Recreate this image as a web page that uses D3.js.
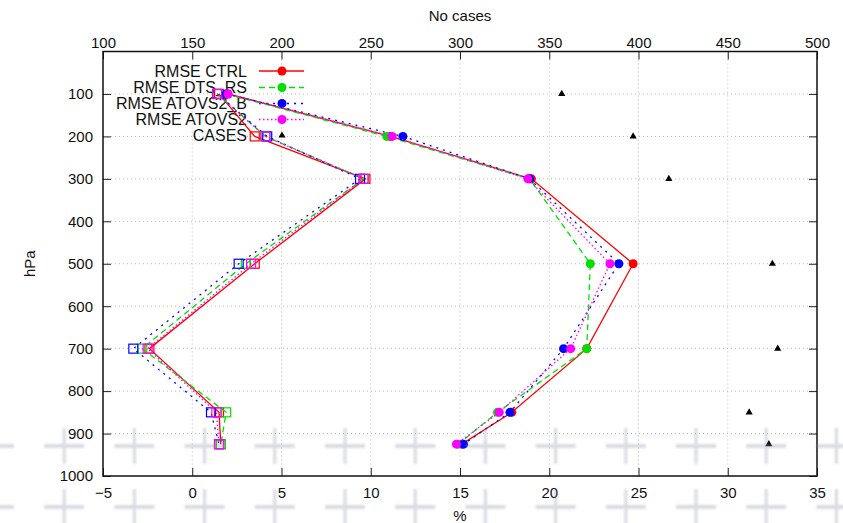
<!DOCTYPE html>
<html>
<head>
<meta charset="utf-8">
<script src="https://cdn.jsdelivr.net/npm/d3@7"></script>
<style>
  html, body { margin: 0; padding: 0; background: #fff; }
  svg { display: block; font-family: "Liberation Sans", Arial, sans-serif; }
</style>
</head>
<body>
<svg id="chart" width="843" height="523"></svg>
<script>
// Pressure levels (hPa)
const levels = [100, 200, 300, 500, 700, 850, 925];

// RMSE (%) per experiment
const rmseCtrl    = [2.0, 11.1, 19.0, 24.7, 22.1, 17.9, 15.1];
const rmseDtsRs   = [1.9, 10.9, 18.9, 22.3, 22.1, 17.1, 14.9];
const rmseAtovsB  = [1.9, 11.8, 18.9, 23.9, 20.8, 17.8, 15.2];
const rmseAtovs   = [2.0, 11.2, 18.8, 23.4, 21.2, 17.2, 14.8];

// Bias (%) per experiment
const biasCtrl    = [1.5, 3.5, 9.7, 3.5, -2.4, 1.5, 1.6];
const biasDtsRs   = [1.4, 4.1, 9.6, 3.0, -2.8, 1.9, 1.6];
const biasAtovsB  = [1.4, 4.2, 9.4, 2.6, -3.3, 1.05, 1.5];
const biasAtovs   = [1.4, 4.1, 9.6, 3.3, -2.5, 1.35, 1.5];

// Number of cases per level (top axis)
const cases = [357, 397, 417, 475, 478, 462, 473];

// Axis ticks
const pctTicks = [-5, 0, 5, 10, 15, 20, 25, 30, 35];
const caseTicks = [100, 150, 200, 250, 300, 350, 400, 450, 500];
const hpaTicks = [100, 200, 300, 400, 500, 600, 700, 800, 900, 1000];

const seriesNames = ["RMSE CTRL", "RMSE DTS_RS", "RMSE ATOVS2_B", "RMSE ATOVS2"];
const seriesColors = ["#ff0000", "#00e000", "#0000ff", "#ff00ff"];
const seriesDash = [null, "6,4", "2,5", "1.5,2.5"];

const svg = d3.select("#chart");
const L = 103, R = 817, T = 51.5, B = 476;

const x = d3.scaleLinear().domain([-5, 35]).range([L, R]);
const xTop = d3.scaleLinear().domain([100, 500]).range([L, R]);
const y = d3.scaleLinear().domain([0, 1000]).range([T, B]);

// grid
const grid = svg.append("g").attr("stroke", "#b8b8b8").attr("stroke-width", 1)
  .attr("stroke-dasharray", "1,3");
pctTicks.slice(1, -1).forEach(v => grid.append("line")
  .attr("x1", x(v)).attr("x2", x(v)).attr("y1", T).attr("y2", B));
hpaTicks.slice(0, -1).forEach(v => grid.append("line")
  .attr("x1", L).attr("x2", R).attr("y1", y(v)).attr("y2", y(v)));

// axes with inward ticks
const tickLen = 8;
const fmt = d3.format("d");
const axB = svg.append("g").attr("transform", `translate(0,${B})`)
  .call(d3.axisBottom(x).tickValues(pctTicks).tickFormat(fmt).tickSizeInner(-tickLen).tickSizeOuter(0).tickPadding(11));
const axT = svg.append("g").attr("transform", `translate(0,${T})`)
  .call(d3.axisTop(xTop).tickValues(caseTicks).tickFormat(fmt).tickSizeInner(-tickLen).tickSizeOuter(0).tickPadding(4));
const axL = svg.append("g").attr("transform", `translate(${L},0)`)
  .call(d3.axisLeft(y).tickValues(hpaTicks).tickFormat(fmt).tickSizeInner(-tickLen).tickSizeOuter(0).tickPadding(10));
const axR = svg.append("g").attr("transform", `translate(${R},0)`)
  .call(d3.axisRight(y).tickValues(hpaTicks).tickSizeInner(-tickLen).tickSizeOuter(0).tickFormat(""));
[axB, axT, axL, axR].forEach(a => {
  a.select(".domain").remove();
  a.selectAll(".tick line").attr("stroke", "#222").attr("stroke-width", 1);
  a.selectAll(".tick text").attr("font-size", 15).attr("fill", "#111")
    .attr("font-family", "'Liberation Sans', Arial, sans-serif");
});

// frame
svg.append("rect").attr("x", L).attr("y", T).attr("width", R - L).attr("height", B - T)
  .attr("fill", "none").attr("stroke", "#111").attr("stroke-width", 1.5);

// axis titles
svg.append("text").attr("x", (L + R) / 2).attr("y", 21).attr("text-anchor", "middle")
  .attr("font-size", 15).attr("fill", "#111").text("No cases");
svg.append("text").attr("x", (L + R) / 2).attr("y", 521).attr("text-anchor", "middle")
  .attr("font-size", 15).attr("fill", "#111").text("%");
svg.append("text").attr("transform", `translate(35,${(T + B) / 2}) rotate(-90)`)
  .attr("text-anchor", "middle").attr("font-size", 15).attr("fill", "#111").text("hPa");

// legend
const legY = [71, 87.5, 103.5, 119.5, 135.5];
const leg = svg.append("g");
seriesNames.concat(["CASES"]).forEach((name, i) => {
  leg.append("text").attr("x", 247).attr("y", legY[i]).attr("dy", "0.36em")
    .attr("text-anchor", "end").attr("font-size", 16).attr("fill", "#111").text(name);
  if (i < 4) {
    leg.append("line").attr("x1", 259).attr("x2", 304).attr("y1", legY[i]).attr("y2", legY[i])
      .attr("stroke", seriesColors[i]).attr("stroke-width", 1.3)
      .attr("stroke-dasharray", seriesDash[i]);
    leg.append("circle").attr("cx", 282).attr("cy", legY[i]).attr("r", 4.5)
      .attr("fill", seriesColors[i]);
  } else {
    leg.append("path").attr("d", d3.symbol(d3.symbolTriangle, 22)())
      .attr("transform", `translate(282,${legY[i]})`).attr("fill", "#000");
  }
});

const line = d3.line().x(d => x(d.v)).y(d => y(d.p));
const pts = arr => arr.map((v, i) => ({ v, p: levels[i] }));

// bias profiles with open squares
[biasCtrl, biasDtsRs, biasAtovsB, biasAtovs].forEach((arr, i) => {
  const d = pts(arr);
  svg.append("path").datum(d).attr("d", line).attr("fill", "none")
    .attr("stroke", seriesColors[i]).attr("stroke-width", 1.3)
    .attr("stroke-dasharray", seriesDash[i]);
  svg.append("g").selectAll("rect").data(d).join("rect")
    .attr("x", p => x(p.v) - 4.5).attr("y", p => y(p.p) - 4.5)
    .attr("width", 9).attr("height", 9).attr("fill", "none")
    .attr("stroke", seriesColors[i]).attr("stroke-width", 1.2);
});

// RMSE profiles with filled circles
[rmseCtrl, rmseDtsRs, rmseAtovsB, rmseAtovs].forEach((arr, i) => {
  const d = pts(arr);
  svg.append("path").datum(d).attr("d", line).attr("fill", "none")
    .attr("stroke", seriesColors[i]).attr("stroke-width", 1.3)
    .attr("stroke-dasharray", seriesDash[i]);
  svg.append("g").selectAll("circle").data(d).join("circle")
    .attr("cx", p => x(p.v)).attr("cy", p => y(p.p)).attr("r", 4.5)
    .attr("fill", seriesColors[i]);
});

// number of cases
svg.append("g").selectAll("path").data(cases.map((n, i) => ({ n, p: levels[i] }))).join("path")
  .attr("d", d3.symbol(d3.symbolTriangle, 22)())
  .attr("transform", d => `translate(${xTop(d.n)},${y(d.p)})`).attr("fill", "#000");

// faint cross pattern along the bottom
const defs = svg.append("defs");
defs.append("filter").attr("id", "soft").append("feGaussianBlur").attr("stdDeviation", 1.3);
const marks = svg.append("g").attr("filter", "url(#soft)").attr("opacity", 0.33);
const crossX = d3.range(-6, 843 + 40, 70.2);
[446, 507].forEach(cy => crossX.forEach(cx => {
  marks.append("rect").attr("x", cx - 20).attr("y", cy - 2).attr("width", 40).attr("height", 4)
    .attr("fill", "#8d96a8");
  marks.append("rect").attr("x", cx - 1.6).attr("y", cy - 18).attr("width", 3.2).attr("height", 36)
    .attr("fill", "#8d96a8");
}));
</script>
</body>
</html>
